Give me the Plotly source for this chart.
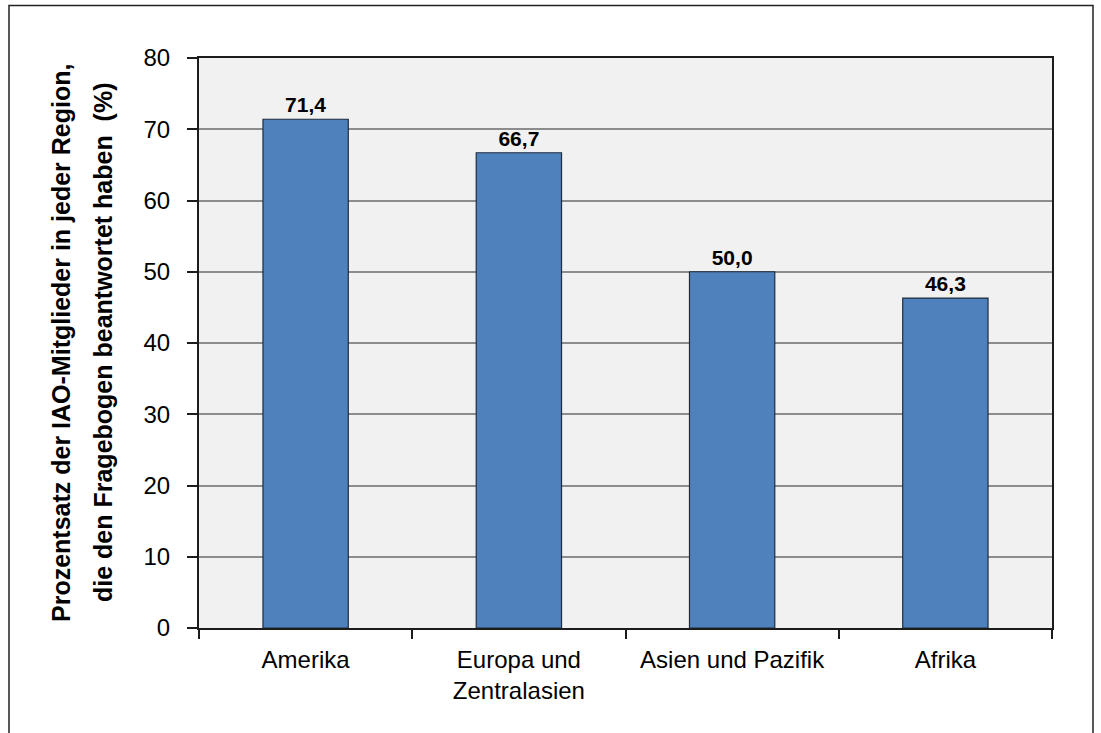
import plotly.graph_objects as go

# Response rates by ILO region
regions = ["Amerika", "Europa und<br>Zentralasien", "Asien und Pazifik", "Afrika"]
response_pct = [71.4, 66.7, 50.0, 46.3]
y_ticks = [0, 10, 20, 30, 40, 50, 60, 70, 80]

title_lines = [
    "Prozentsatz der IAO-Mitglieder in jeder Region,",
    "die den Fragebogen beantwortet haben  (%)",
]

FONT = "Liberation Sans, Arial, sans-serif"
FRAME = "#1c1c1c"

fig = go.Figure(
    go.Bar(
        x=regions,
        y=response_pct,
        marker=dict(color="#4F81BD", line=dict(color="#1f2d3d", width=1.2)),
        texttemplate="<b>%{y:.1f}</b>",
        textposition="outside",
        textfont=dict(family=FONT, size=21, color="#000000"),
        cliponaxis=False,
        hoverinfo="skip",
    )
)

fig.update_layout(
    width=1101,
    height=733,
    margin=dict(l=199, r=49, t=58, b=105),
    paper_bgcolor="#FFFFFF",
    plot_bgcolor="#F1F1F1",
    separators=",.",
    bargap=0.6,
    showlegend=False,
    font=dict(family=FONT, size=24, color="#000000"),
)

fig.update_xaxes(
    type="category",
    showgrid=False,
    showline=True,
    linecolor=FRAME,
    linewidth=2,
    mirror=True,
    ticks="outside",
    tickson="boundaries",
    ticklen=9,
    tickwidth=1.5,
    tickcolor=FRAME,
    ticklabelstandoff=9,
    tickfont=dict(family=FONT, size=24, color="#000000"),
)

fig.update_yaxes(
    range=[0, 80],
    tickvals=y_ticks,
    showgrid=True,
    gridcolor="#8c8c8c",
    gridwidth=1.5,
    zeroline=False,
    showline=True,
    linecolor=FRAME,
    linewidth=2,
    mirror=True,
    ticks="outside",
    ticklen=10,
    tickwidth=1.5,
    tickcolor=FRAME,
    ticklabelstandoff=12,
    tickfont=dict(family=FONT, size=24, color="#000000"),
)

# Rotated axis title, one annotation per line
for x_px, line in zip([61, 103], title_lines):
    fig.add_annotation(
        text=f"<b>{line}</b>",
        xref="paper",
        yref="paper",
        x=(x_px - 199) / 853,
        y=(628 - 343) / 570,
        xanchor="center",
        yanchor="middle",
        textangle=-90,
        showarrow=False,
        font=dict(family=FONT, size=25, color="#000000"),
    )

# Outer chart frame
fig.add_shape(
    type="rect",
    xref="paper",
    yref="paper",
    x0=(9 - 199) / 853,
    x1=(1093 - 199) / 853,
    y0=(628 - 745) / 570,
    y1=(628 - 5.5) / 570,
    line=dict(color="#222222", width=1.5),
    fillcolor="rgba(0,0,0,0)",
    layer="below",
)

fig.write_html("out.html")
